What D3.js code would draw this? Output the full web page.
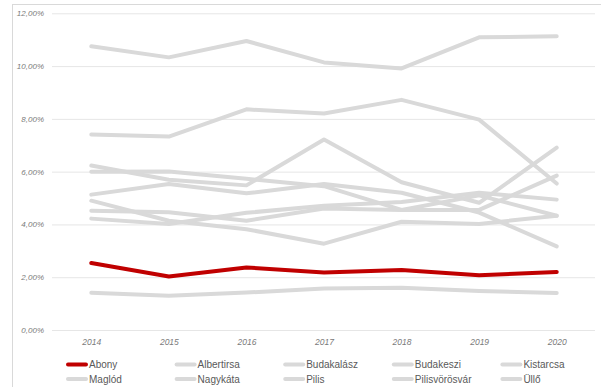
<!DOCTYPE html>
<html>
<head>
<meta charset="utf-8">
<script src="https://cdn.jsdelivr.net/npm/d3@7"></script>
<style>
  html, body { margin: 0; padding: 0; background: #fff; }
  svg { display: block; }
</style>
</head>
<body>
<svg id="chart" width="601" height="387"></svg>
<script>
const years = ["2014", "2015", "2016", "2017", "2018", "2019", "2020"];
const yTicks = [0, 2, 4, 6, 8, 10, 12];
const seriesNames = ["Abony", "Albertirsa", "Budakalász", "Budakeszi", "Kistarcsa",
                     "Maglód", "Nagykáta", "Pilis", "Pilisvörösvár", "Üllő"];
const abony         = [2.54, 2.03, 2.37, 2.18, 2.27, 2.07, 2.20];
const albertirsa    = [10.75, 10.33, 10.95, 10.14, 9.91, 11.09, 11.13];
const budakalasz    = [7.41, 7.33, 8.36, 8.20, 8.72, 7.97, 5.55];
const budakeszi     = [6.23, 5.69, 5.48, 7.22, 5.60, 4.82, 6.91];
const kistarcsa     = [6.00, 6.01, 5.73, 5.45, 4.55, 5.10, 4.33];
const maglod        = [5.13, 5.53, 5.18, 5.53, 5.20, 4.45, 3.17];
const nagykata      = [4.90, 4.14, 3.82, 3.27, 4.10, 4.02, 4.33];
const pilis         = [4.52, 4.46, 4.14, 4.60, 4.55, 4.55, 5.85];
const pilisvorosvar = [4.22, 4.02, 4.44, 4.71, 4.85, 5.20, 4.94];
const ullo          = [1.41, 1.30, 1.42, 1.57, 1.60, 1.48, 1.40];

const seriesValues = [abony, albertirsa, budakalasz, budakeszi, kistarcsa,
                      maglod, nagykata, pilis, pilisvorosvar, ullo];
const seriesColors = ["#c00000", "#d9d9d9", "#d9d9d9", "#d9d9d9", "#d9d9d9",
                      "#d9d9d9", "#d9d9d9", "#d9d9d9", "#d9d9d9", "#d9d9d9"];

const series = seriesNames.map((n, i) => ({ name: n, values: seriesValues[i], color: seriesColors[i] }));

const svg = d3.select("#chart");

// chart area border
svg.append("rect")
  .attr("x", 12.5).attr("y", 4.5)
  .attr("width", 700).attr("height", 500)
  .attr("fill", "none").attr("stroke", "#d9d9d9").attr("stroke-width", 1);

const x = d3.scalePoint().domain(years).range([52.5, 595.5]).padding(0.5);
const y = d3.scaleLinear().domain([0, 12]).range([330, 13.3]);

// gridlines
const yAxis = d3.axisLeft(y).tickValues(yTicks)
  .tickSize(-(595 - 52))
  .tickFormat(d => d.toFixed(2).replace(".", ",") + "%");
const gy = svg.append("g").attr("transform", "translate(52,0)").call(yAxis);
gy.select(".domain").remove();
gy.selectAll(".tick line").attr("stroke", "#e6e6e6").attr("stroke-width", 1);
gy.selectAll(".tick text")
  .attr("x", -8)
  .attr("fill", "#7a7a7a")
  .style("font-family", "'Liberation Sans', Arial, sans-serif")
  .style("font-style", "italic")
  .style("font-size", "8px");

// x axis labels
const xAxis = d3.axisBottom(x).tickSize(0);
const gx = svg.append("g").attr("transform", "translate(0,330)").call(xAxis);
gx.select(".domain").remove();
gx.selectAll(".tick text")
  .attr("y", 9)
  .attr("fill", "#7a7a7a")
  .style("font-family", "'Liberation Sans', Arial, sans-serif")
  .style("font-style", "italic")
  .style("font-size", "8.5px");

// lines
const line = d3.line().x((d, i) => x(years[i])).y(d => y(d));
const drawOrder = series.slice(1).concat([series[0]]);
svg.append("g").selectAll("path").data(drawOrder).join("path")
  .attr("d", d => line(d.values))
  .attr("fill", "none")
  .attr("stroke", d => d.color)
  .attr("stroke-width", 4)
  .attr("stroke-linecap", "round")
  .attr("stroke-linejoin", "round");

// legend
const legend = svg.append("g");
series.forEach((s, i) => {
  const col = i % 5, row = Math.floor(i / 5);
  const lx = 68 + col * 108.6, ly = 364.5 + row * 14.5;
  legend.append("line")
    .attr("x1", lx).attr("x2", lx + 18)
    .attr("y1", ly).attr("y2", ly)
    .attr("stroke", s.color).attr("stroke-width", 4)
    .attr("stroke-linecap", "round");
  legend.append("text")
    .attr("x", lx + 21).attr("y", ly + 3.5)
    .attr("fill", "#595959")
    .style("font-family", "'Liberation Sans', Arial, sans-serif")
    .style("font-size", "10px")
    .text(s.name);
});
</script>
</body>
</html>
